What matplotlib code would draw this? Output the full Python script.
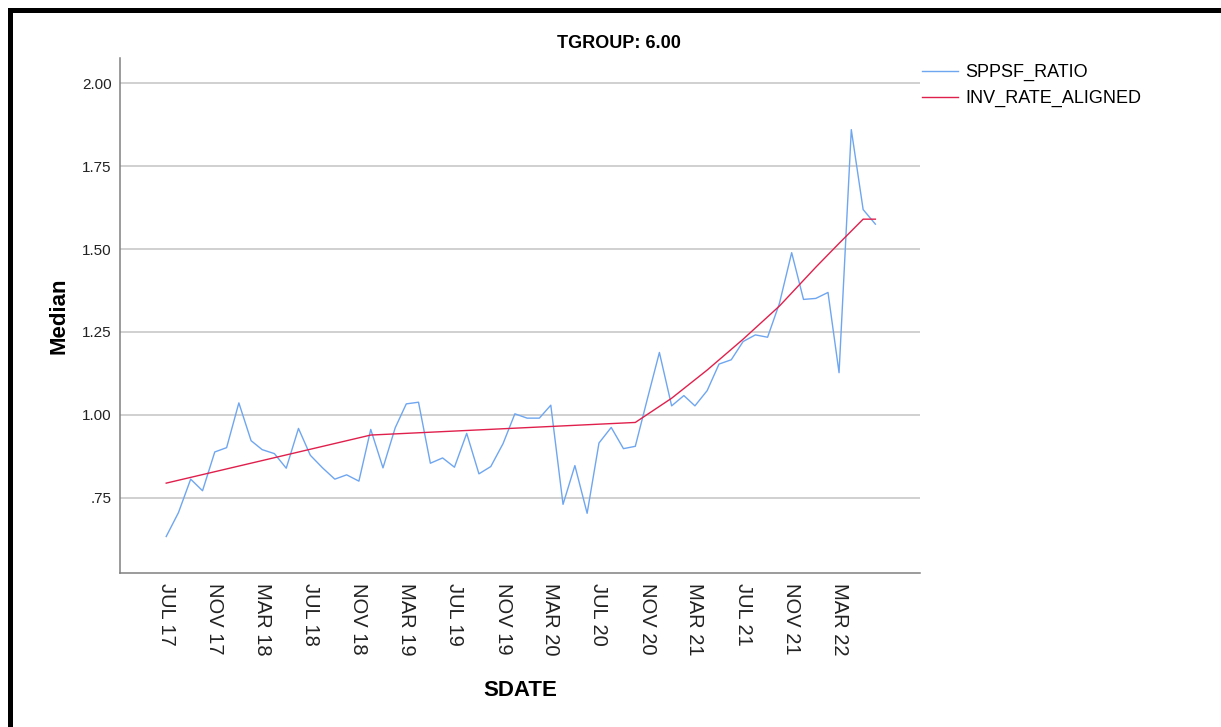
import numpy as np
import pandas as pd
import matplotlib
matplotlib.use("Agg")
import matplotlib.pyplot as plt
from matplotlib.patches import Rectangle

plt.rcParams['font.family'] = ['Liberation Sans', 'DejaVu Sans']

# monthly medians, Jul 2017 .. Jun 2022
sdate = pd.date_range('2017-07-01', periods=60, freq='MS')
sppsf_ratio = [0.633, 0.705, 0.806, 0.771, 0.888, 0.901, 1.036, 0.922, 0.895, 0.883,
               0.839, 0.959, 0.878, 0.840, 0.806, 0.819, 0.800, 0.956, 0.840, 0.961,
               1.033, 1.038, 0.854, 0.870, 0.842, 0.944, 0.822, 0.844, 0.913, 1.003,
               0.990, 0.990, 1.029, 0.730, 0.847, 0.703, 0.915, 0.962, 0.898, 0.905,
               1.050, 1.188, 1.027, 1.058, 1.027, 1.073, 1.153, 1.166, 1.221, 1.241,
               1.234, 1.336, 1.489, 1.348, 1.351, 1.369, 1.127, 1.860, 1.619, 1.575]

# aligned inverse rate, given where its slope changes
inv_dates = pd.to_datetime(['2017-07-01', '2018-12-01', '2020-10-01', '2021-01-01',
                            '2021-04-01', '2021-07-01', '2021-10-01', '2022-01-01',
                            '2022-03-01', '2022-05-01', '2022-06-01'])
inv_rate = [0.794, 0.939, 0.977, 1.050, 1.135, 1.228, 1.328, 1.445, 1.517, 1.590, 1.590]

tick_dates = pd.date_range('2017-07-01', '2022-03-01', freq='4MS')
y_ticks = [0.75, 1.00, 1.25, 1.50, 1.75, 2.00]
y_labels = ['.75', '1.00', '1.25', '1.50', '1.75', '2.00']

W, H = 1221, 727
fig = plt.figure(figsize=(W / 100, H / 100), dpi=100)
ax = fig.add_axes([120 / W, 1 - 573 / H, 800 / W, (573 - 58) / H])

ax.plot(sdate, sppsf_ratio, color='#6fa6f0', lw=1.0, label='SPPSF_RATIO')
ax.plot(inv_dates, inv_rate, color='#e0204c', lw=1.0, label='INV_RATE_ALIGNED')

ax.set_ylim(0.523, 2.076)
ax.set_xlim(pd.Timestamp('2017-03-06'), pd.Timestamp('2022-09-22'))
ax.set_yticks(y_ticks)
ax.set_yticklabels(y_labels)
ax.set_xticks(tick_dates)
ax.set_xticklabels([d.strftime('%b %y').upper() for d in tick_dates],
                   rotation=270, fontsize=14.5)
ax.tick_params(axis='y', length=0, pad=6, labelsize=11, labelcolor='#222222')
ax.tick_params(axis='x', length=0, pad=7, labelcolor='#222222')

ax.grid(axis='y', color='#c4c4c4', lw=1.1)
ax.set_axisbelow(True)
for side in ('top', 'right'):
    ax.spines[side].set_visible(False)
for side in ('left', 'bottom'):
    ax.spines[side].set_color('#808080')
    ax.spines[side].set_linewidth(1.1)

ax.set_ylabel('Median', fontsize=16, fontweight='bold', labelpad=9)
ax.set_xlabel('SDATE', fontsize=16, fontweight='bold', labelpad=18)

fig.text(619 / W, 1 - 43 / H, 'TGROUP: 6.00', ha='center', va='center',
         fontsize=13, fontweight='bold')

fig.legend(loc='upper left', bbox_to_anchor=(922 / W, 1 - 64 / H), frameon=False,
           fontsize=13, handlelength=2.0, handletextpad=0.4, labelspacing=0.5,
           borderaxespad=0, borderpad=0)

# black frame, open at the right and bottom
fig.add_artist(Rectangle((9.5 / W, -0.2), 2, 1.2 - 9.5 / H, transform=fig.transFigure,
                         fill=False, ec='black', lw=3.6))

fig.savefig('out.png', dpi=100)
